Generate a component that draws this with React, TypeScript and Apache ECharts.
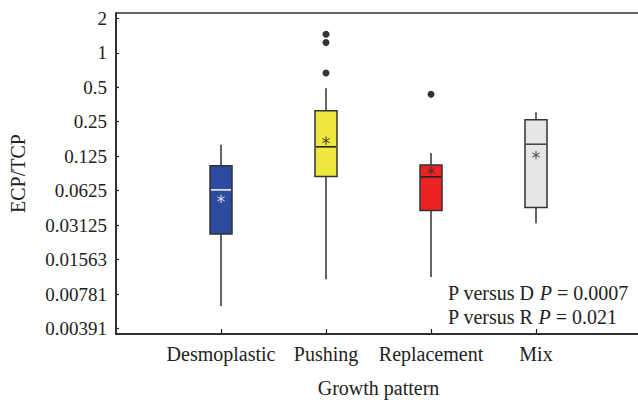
import { useEffect, useRef } from 'react';
import * as echarts from 'echarts';

const categories = ['Desmoplastic', 'Pushing', 'Replacement', 'Mix'];
const whiskerLow = [0.00616, 0.0105, 0.011, 0.0325];
const quartile1 = [0.0261, 0.083, 0.0419, 0.0445];
const medians = [0.0635, 0.151, 0.0825, 0.159];
const quartile3 = [0.1034, 0.312, 0.1049, 0.26];
const whiskerHigh = [0.157, 0.49, 0.133, 0.302];
const means = [0.053, 0.171, 0.0933, 0.128];
const outlierCategory = ['Pushing', 'Pushing', 'Pushing', 'Replacement'];
const outlierValues = [1.45, 1.23, 0.666, 0.434];
const tickValues = [0.00390625, 0.0078125, 0.015625, 0.03125, 0.0625, 0.125, 0.25, 0.5, 1, 2];
const tickLabels = ['0.00391', '0.00781', '0.01563', '0.03125', '0.0625', '0.125', '0.25', '0.5', '1', '2'];
const yMin = 0.0035;
const yMax = 2.2255;
const boxColors = ['#2c4a9e', '#eee83e', '#ee2224', '#e6e6e6'];
const medianColors = ['#f2f2f2', '#222222', '#222222', '#444444'];
const meanColors = ['#e8e8f4', '#333333', '#333333', '#444444'];

const FONT = '"Liberation Serif", "Times New Roman", serif';
const log2 = (v: number) => Math.log(v) / Math.LN2;

export default function App() {
  const ref = useRef<HTMLDivElement>(null);
  useEffect(() => {
    if (!ref.current) return;
    const chart = echarts.init(ref.current, undefined, { renderer: 'svg' });
    const axisData = ['', ...categories, ''];
    const boxData = categories.map((c, i) => [
      i + 1,
      log2(whiskerLow[i]),
      log2(quartile1[i]),
      log2(medians[i]),
      log2(quartile3[i]),
      log2(whiskerHigh[i]),
      log2(means[i]),
    ]);
    const outlierData = outlierValues.map((v, k) => [categories.indexOf(outlierCategory[k]) + 1, log2(v)]);
    const tickLog = tickValues.map(log2);

    chart.setOption({
      animation: false,
      grid: {
        left: 116,
        right: -3,
        top: 13,
        bottom: 68,
        show: true,
        borderColor: '#333',
        borderWidth: 1.5,
        outerBoundsMode: 'none',
        containLabel: false,
      },
      xAxis: {
        type: 'category',
        data: axisData,
        boundaryGap: false,
        name: 'Growth pattern',
        nameLocation: 'middle',
        nameGap: 44,
        nameTextStyle: { fontFamily: FONT, fontSize: 20, color: '#222', verticalAlign: 'top' },
        axisLine: { onZero: false, lineStyle: { color: '#222', width: 1.5 } },
        axisTick: {
          inside: true,
          length: 5,
          lineStyle: { color: '#222', width: 1.2 },
          interval: (idx: number) => idx >= 1 && idx <= categories.length,
        },
        axisLabel: {
          interval: 0,
          margin: 10,
          fontFamily: FONT,
          fontSize: 20,
          color: '#222',
        },
        splitLine: { show: false },
      },
      yAxis: {
        type: 'value',
        min: log2(yMin),
        max: log2(yMax),
        name: 'ECP/TCP',
        nameLocation: 'middle',
        nameGap: 88,
        nameTextStyle: { fontFamily: FONT, fontSize: 20, color: '#222' },
        axisLine: { show: true, onZero: false, lineStyle: { color: '#222', width: 1.5 } },
        axisTick: {
          show: true,
          inside: true,
          length: 3,
          customValues: tickLog,
          lineStyle: { color: '#222', width: 1.2 },
        },
        axisLabel: {
          customValues: tickLog,
          margin: 9,
          fontFamily: FONT,
          fontSize: 19,
          color: '#222',
          formatter: (v: number) => {
            const k = tickLog.findIndex((t) => Math.abs(t - v) < 1e-6);
            return k >= 0 ? tickLabels[k] : '';
          },
        },
        splitLine: { show: false },
      },
      series: [
        {
          type: 'custom',
          data: boxData,
          encode: { x: 0, y: [1, 2, 3, 4, 5, 6] },
          renderItem: (params: any, api: any) => {
            const i = params.dataIndex;
            const xv = api.value(0);
            const pLow = api.coord([xv, api.value(1)]);
            const pQ1 = api.coord([xv, api.value(2)]);
            const pMed = api.coord([xv, api.value(3)]);
            const pQ3 = api.coord([xv, api.value(4)]);
            const pHigh = api.coord([xv, api.value(5)]);
            const pMean = api.coord([xv, api.value(6)]);
            const cx = pLow[0];
            const half = 11;
            const r = 4.2;
            const lineStyle = { stroke: '#111', lineWidth: 1.3 };
            const starStyle = { stroke: meanColors[i], lineWidth: 1 };
            return {
              type: 'group',
              children: [
                { type: 'line', shape: { x1: cx, y1: pLow[1], x2: cx, y2: pQ1[1] }, style: lineStyle },
                { type: 'line', shape: { x1: cx, y1: pQ3[1], x2: cx, y2: pHigh[1] }, style: lineStyle },
                {
                  type: 'rect',
                  shape: { x: cx - half, y: pQ3[1], width: 2 * half, height: pQ1[1] - pQ3[1] },
                  style: { fill: boxColors[i], stroke: '#333', lineWidth: 1.5 },
                },
                {
                  type: 'line',
                  shape: { x1: cx - half + 1, y1: pMed[1], x2: cx + half - 1, y2: pMed[1] },
                  style: { stroke: medianColors[i], lineWidth: 1.6 },
                },
                { type: 'line', shape: { x1: cx, y1: pMean[1] - r, x2: cx, y2: pMean[1] + r }, style: starStyle },
                {
                  type: 'line',
                  shape: { x1: cx - r * 0.87, y1: pMean[1] - r * 0.5, x2: cx + r * 0.87, y2: pMean[1] + r * 0.5 },
                  style: starStyle,
                },
                {
                  type: 'line',
                  shape: { x1: cx - r * 0.87, y1: pMean[1] + r * 0.5, x2: cx + r * 0.87, y2: pMean[1] - r * 0.5 },
                  style: starStyle,
                },
              ],
            };
          },
        },
        {
          type: 'scatter',
          data: outlierData,
          symbol: 'circle',
          symbolSize: 7,
          itemStyle: { color: '#000' },
        },
      ],
      graphic: [
        {
          type: 'text',
          left: 448,
          top: 283,
          style: {
            text: '{a|P versus D }{i|P}{a| = 0.0007}\n{a|P versus R }{i|P}{a| = 0.021}',
            rich: {
              a: { fontFamily: FONT, fontSize: 20, fill: '#222', lineHeight: 24 },
              i: { fontFamily: FONT, fontSize: 20, fontStyle: 'italic', fill: '#222', lineHeight: 24 },
            },
          },
        },
      ],
    });
    return () => chart.dispose();
  }, []);
  return <div ref={ref} style={{ position: 'absolute', left: 0, top: 0, width: 638, height: 402 }} />;
}
